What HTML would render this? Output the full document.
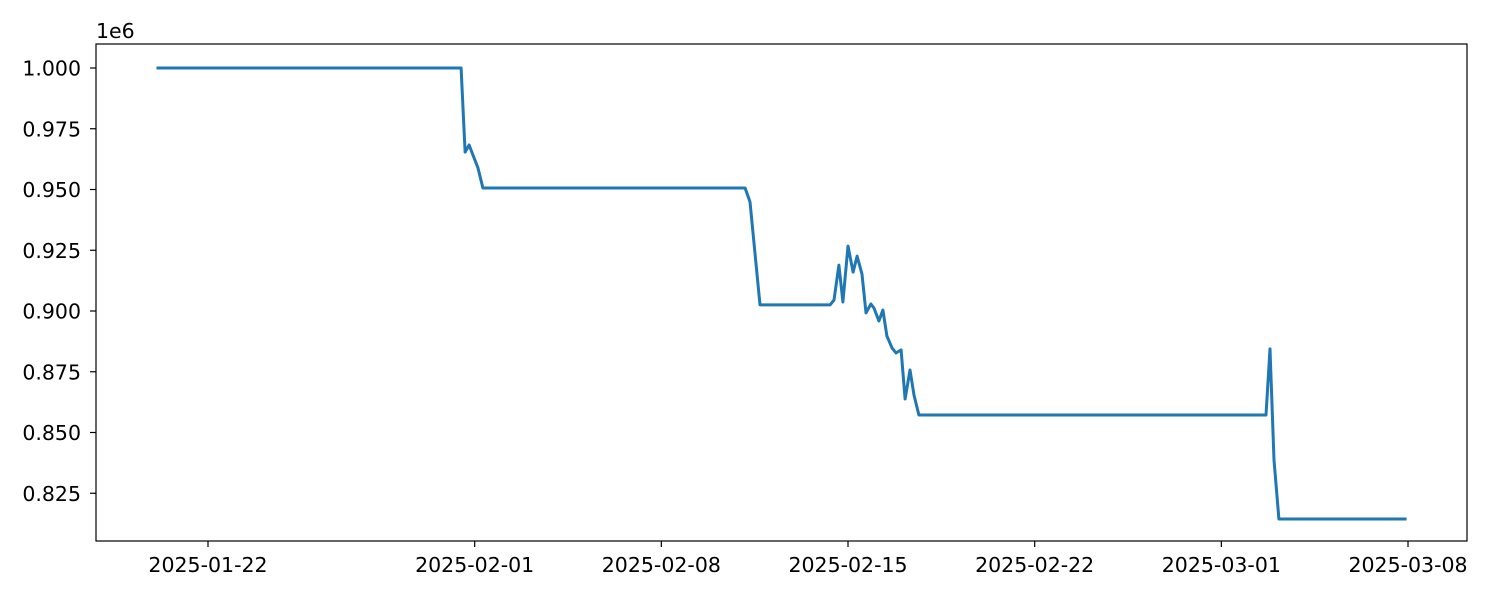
<!DOCTYPE html>
<html><head><meta charset="utf-8"><style>
html,body{margin:0;padding:0;background:#fff;}
svg{display:block;font-family:"DejaVu Sans","Liberation Sans",sans-serif;}
</style></head><body>
<svg id="chart" width="1500" height="600" xmlns="http://www.w3.org/2000/svg"></svg>
<script>
// day offsets since 2025-01-01 (fractional days)
const days = [19.125,30.49,30.64,30.79,31.125,31.31,41.14,41.325,41.70,44.325,44.475,44.66,44.81,45.0,45.19,45.34,45.525,45.675,45.86,45.975,46.16,46.31,46.46,46.65,46.80,46.99,47.14,47.325,47.475,47.66,60.675,60.825,60.975,61.16,65.89];
const values = [1.0,1.0,0.9654,0.9683,0.9588,0.9506,0.9506,0.9449,0.9025,0.9025,0.9045,0.9189,0.9037,0.9267,0.9160,0.9226,0.9152,0.8992,0.9029,0.9012,0.8959,0.9004,0.8897,0.8848,0.8827,0.8840,0.8638,0.8757,0.8654,0.8572,0.8572,0.8844,0.8387,0.8144,0.8144];
const xTickDays = [21,31,38,45,52,59,66];
const xTickLabels = ["2025-01-22","2025-02-01","2025-02-08","2025-02-15","2025-02-22","2025-03-01","2025-03-08"];
const yTicks = [0.825,0.850,0.875,0.900,0.925,0.950,0.975,1.000];
const yTickLabels = ["0.825","0.850","0.875","0.900","0.925","0.950","0.975","1.000"];

const NS="http://www.w3.org/2000/svg";
const svg=document.getElementById('chart');
const L=96,R=1467,T=44,B=541;
const FS=20.5;
const x=d=>208+(d-21)*26.667;
const y=v=>68+(1.0-v)/0.025*60.75;
function el(tag,attrs,parent){const e=document.createElementNS(NS,tag);for(const k in attrs)e.setAttribute(k,attrs[k]);(parent||svg).appendChild(e);return e;}

const line=el('polyline',{points:days.map((d,i)=>x(d).toFixed(1)+','+y(values[i]).toFixed(1)).join(' '),fill:'none',stroke:'#1f77b4','stroke-width':3,'stroke-linejoin':'round','stroke-linecap':'square'});



const frame=el('rect',{x:L,y:T,width:R-L,height:B-T,fill:'none',stroke:'#000','stroke-width':1.2});



xTickDays.forEach((d,i)=>{
  const px=x(d);
  const t=el('line',{x1:px,x2:px,y1:B,y2:B+6,stroke:'#000','stroke-width':1.2});
  
  
  const tx=el('text',{x:px,y:B+31,'text-anchor':'middle','font-size':FS,fill:'#000'});
  tx.textContent=xTickLabels[i];
  
  
});
yTicks.forEach((v,i)=>{
  const py=y(v);
  const t=el('line',{x1:L-6,x2:L,y1:py,y2:py,stroke:'#000','stroke-width':1.2});
  
  
  const tx=el('text',{x:L-15,y:py+7.5,'text-anchor':'end','font-size':FS,fill:'#000'});
  tx.textContent=yTickLabels[i];
  
  
});
const off=el('text',{x:96,y:38,'font-size':FS,fill:'#000'});
off.textContent='1e6';


</script>
</body></html>
